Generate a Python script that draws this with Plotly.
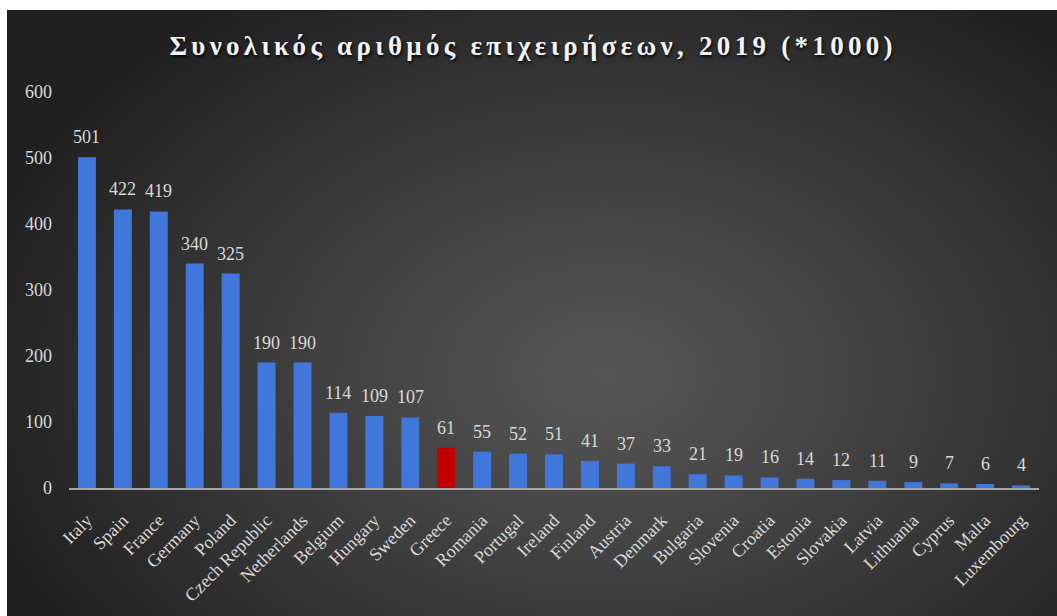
import base64
import struct
import zlib

import numpy as np
import plotly.graph_objects as go

# ---- data -------------------------------------------------------------
countries = [
    "Italy", "Spain", "France", "Germany", "Poland", "Czech Republic",
    "Netherlands", "Belgium", "Hungary", "Sweden", "Greece", "Romania",
    "Portugal", "Ireland", "Finland", "Austria", "Denmark", "Bulgaria",
    "Slovenia", "Croatia", "Estonia", "Slovakia", "Latvia", "Lithuania",
    "Cyprus", "Malta", "Luxembourg",
]
enterprises_k = [
    501, 422, 419, 340, 325, 190, 190, 114, 109, 107, 61, 55, 52, 51,
    41, 37, 33, 21, 19, 16, 14, 12, 11, 9, 7, 6, 4,
]
highlight = "Greece"
y_ticks = [0, 100, 200, 300, 400, 500, 600]
title_text = "Συνολικός αριθμός επιχειρήσεων, 2019 (*1000)"

# ---- figure geometry (pixels) -------------------------------------------
W, H = 1057, 616
BOX_L, BOX_T = 7, 10          # dark panel offset inside the white page
PLOT_L, PLOT_R = 69, 1039     # x-axis extent
PLOT_T, PLOT_B = 92, 488      # y = 600 and y = 0


def px(x):
    """Pixel x -> paper fraction."""
    return x / W


def py(y):
    """Pixel y -> paper fraction."""
    return 1 - y / H


SERIF = "Liberation Serif"
LABEL = "#d9d9d9"


def radial_png(w, h, cx, cy, inner, outer):
    """Build a PNG (as data URI) with a radial grey gradient."""
    yy, xx = np.mgrid[0:h, 0:w].astype(float)
    d = np.sqrt(((xx - cx) / (w * 0.62)) ** 2 + ((yy - cy) / (h * 0.75)) ** 2)
    t = np.clip(d, 0, 1) ** 1.1
    val = inner + (outer - inner) * t
    img = np.repeat(val[:, :, None], 3, axis=2).round().astype(np.uint8)
    raw = b"".join(b"\x00" + img[r].tobytes() for r in range(h))

    def chunk(tag, data):
        c = struct.pack(">I", len(data)) + tag + data
        return c + struct.pack(">I", zlib.crc32(tag + data) & 0xFFFFFFFF)

    png = b"\x89PNG\r\n\x1a\n"
    png += chunk(b"IHDR", struct.pack(">IIBBBBB", w, h, 8, 2, 0, 0, 0))
    png += chunk(b"IDAT", zlib.compress(raw, 9))
    png += chunk(b"IEND", b"")
    return "data:image/png;base64," + base64.b64encode(png).decode()


bg_w, bg_h = W - BOX_L, H - BOX_T
background = radial_png(bg_w, bg_h, bg_w * 0.57, bg_h * 0.6, 86, 32)

bar_colors = ["#c00000" if c == highlight else "#4176da" for c in countries]

fig = go.Figure()
fig.add_trace(go.Bar(
    x=countries,
    y=enterprises_k,
    marker=dict(color=bar_colors, line=dict(width=0)),
    width=0.5,
    hoverinfo="x+y",
))

# value labels above each bar
for c, v in zip(countries, enterprises_k):
    fig.add_annotation(
        x=c, y=v, text=str(v), showarrow=False,
        yanchor="bottom", yshift=8,
        font=dict(family=SERIF, size=18, color=LABEL),
    )

# chart title
fig.add_annotation(
    xref="paper", yref="paper",
    x=px(533), y=py(46),
    text=f"<b>{title_text}</b>", showarrow=False,
    xanchor="center", yanchor="middle",
    font=dict(family=SERIF, size=27, color="#f2f2f2",
              shadow="1px 2px 3px rgba(0,0,0,0.85)"),
)

fig.update_layout(
    width=W, height=H,
    margin=dict(l=0, r=0, t=0, b=0, autoexpand=False),
    paper_bgcolor="white",
    plot_bgcolor="rgba(0,0,0,0)",
    showlegend=False,
    images=[dict(
        source=background, xref="paper", yref="paper",
        x=px(BOX_L), y=py(BOX_T), sizex=1 - px(BOX_L), sizey=py(BOX_T),
        xanchor="left", yanchor="top", sizing="stretch", layer="below",
    )],
    xaxis=dict(
        domain=[px(PLOT_L), px(PLOT_R)],
        automargin=False,
        showgrid=False, zeroline=False,
        showline=True, linecolor="#a6a6a6", linewidth=1.5,
        ticks="", tickangle=-45, ticklabelstandoff=13,
        tickfont=dict(family=SERIF, size=18, color=LABEL),
        fixedrange=True,
    ),
    yaxis=dict(
        domain=[py(PLOT_B), py(PLOT_T)],
        automargin=False,
        range=[0, 600], tickvals=y_ticks,
        showgrid=False, zeroline=False, showline=False,
        ticks="", ticklabelstandoff=16,
        tickfont=dict(family=SERIF, size=18, color=LABEL),
        fixedrange=True,
    ),
)

# flush page, spaced-out lettering for the title
page_js = """
document.body.style.margin = '0';
document.querySelectorAll('.annotation-text').forEach(function (el) {
  if (el.textContent.indexOf('2019') !== -1) {
    el.style.letterSpacing = '4.3px';
  }
});
"""

fig.write_html("out.html", post_script=page_js)
